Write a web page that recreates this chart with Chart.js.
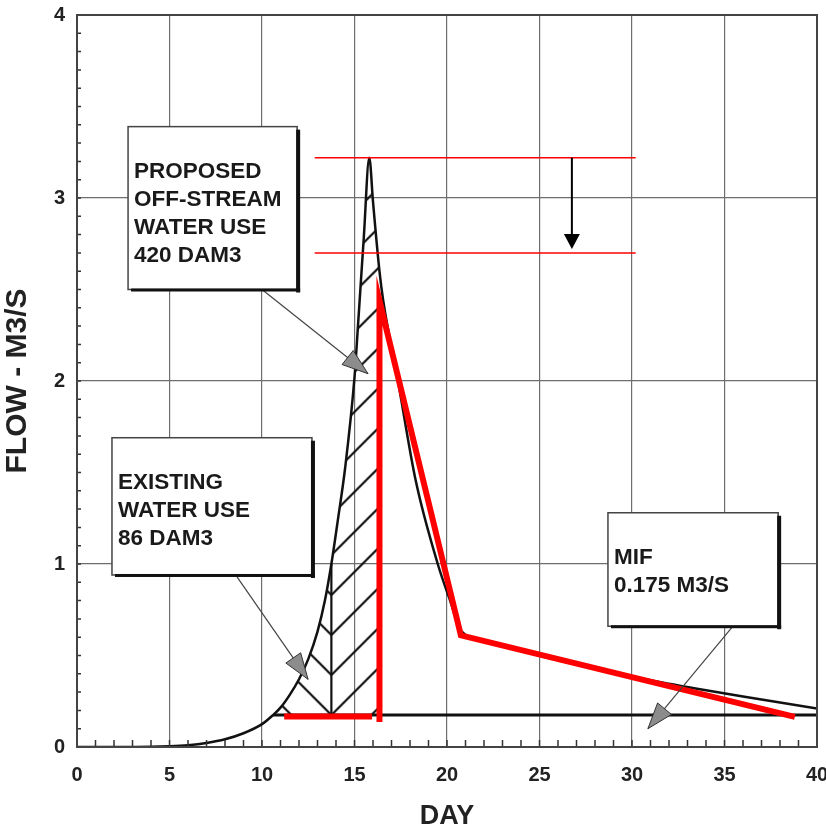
<!DOCTYPE html>
<html>
<head>
<meta charset="utf-8">
<script src="https://cdn.jsdelivr.net/npm/chart.js@4.4.1/dist/chart.umd.min.js"></script>
<style>
  html, body { margin: 0; padding: 0; background: #fff; overflow: hidden; }
</style>
</head>
<body>
<canvas id="flow-chart" width="826" height="833"></canvas>
<script>
// hydrograph (day, m3/s)
const days = [0, 2, 4, 5, 6, 7, 8, 9, 10, 10.6, 11, 11.5, 12, 12.5, 13, 13.4, 13.75, 14.1, 14.5, 15, 15.2, 15.5, 15.8, 16, 16.35, 16.55, 17.35, 18.3, 19.5, 20.1, 20.8, 22, 25, 28, 31, 34, 37, 40];
const flow = [0, 0, 0.001, 0.004, 0.01, 0.022, 0.042, 0.075, 0.125, 0.175, 0.215, 0.285, 0.37, 0.48, 0.63, 0.8, 1.0, 1.24, 1.53, 2.02, 2.32, 2.78, 3.22, 2.98, 2.6, 2.44, 2.0, 1.46, 1.0, 0.82, 0.63, 0.585, 0.5, 0.43, 0.365, 0.31, 0.26, 0.21];

// minimum instream flow
const mifDays = [10.6, 40];
const mifFlow = [0.175, 0.175];

// split of the hatched area: existing use / proposed use
const existingFrom = 10.6;
const splitDay = 13.75;
const cutDay = 16.35;

// red overlay (hand drawn on the original)
const redBaseDays = [11.2, 15.95];
const redBaseFlow = [0.167, 0.167];
const redCutDays = [16.35, 16.35, 20.75, 38.8];
const redCutFlow = [0.137, 2.44, 0.61, 0.165];

// thin red lines showing the peak reduction
const peakLineDays = [12.85, 30.2];
const peakFlow = 3.22;
const reducedFlow = 2.70;
const arrowDay = 26.75;

// axes
const xTicks = [0, 5, 10, 15, 20, 25, 30, 35, 40];
const yTicks = [0, 1, 2, 3, 4];

const FONT = "'Liberation Sans', Arial, sans-serif";

const pts = (xs, ys) => xs.map((x, i) => ({ x: x, y: ys[i] }));
const curve = pts(days, flow);
const between = (a, b) => curve.filter(p => p.x >= a && p.x <= b);

// hatch patterns (lines meet in a chevron at the split day)
function hatch(dir) {
  const s = 40;
  const c = document.createElement("canvas");
  c.width = s; c.height = s;
  const g = c.getContext("2d");
  g.strokeStyle = "#111";
  g.lineWidth = 2.2;
  g.beginPath();
  for (let k = -1; k <= 1; k++) {
    if (dir === "/") {
      g.moveTo(-s + k * s, s * 2); g.lineTo(s * 2 + k * s, -s);
    } else {
      g.moveTo(-s + k * s, -s); g.lineTo(s * 2 + k * s, s * 2);
    }
  }
  g.stroke();
  return g.createPattern(c, "repeat");
}
const hatchLeft = hatch("\\");
const hatchRight = hatch("/");

// callout boxes, in data units: [left day, top flow, right day, bottom flow]
const notes = [
  { lines: ["PROPOSED", "OFF-STREAM", "WATER USE", "420 DAM3"], box: [2.76, 3.39, 11.9, 2.50], from: [10.0, 2.50], to: [15.73, 2.04] },
  { lines: ["EXISTING", "WATER USE", "86 DAM3"], box: [1.89, 1.69, 12.7, 0.94], from: [8.65, 0.93], to: [12.49, 0.37] },
  { lines: ["MIF", "0.175 M3/S"], box: [28.7, 1.28, 37.9, 0.66], from: [35.46, 0.66], to: [30.86, 0.10] },
];

function renderChart() {
  const ctx = document.getElementById("flow-chart");

  const toPx = (chart, d, v) => [chart.scales.x.getPixelForValue(d), chart.scales.y.getPixelForValue(v)];

  const extras = {
    id: "extras",
    beforeDraw: (chart) => {
      const [x0, y0] = toPx(chart, splitDay, mifFlow[0]);
      const m = new DOMMatrix([1, 0, 0, 1, x0, y0]);
      hatchLeft.setTransform(m);
      hatchRight.setTransform(m);
    },
    afterDatasetsDraw: (chart) => {
      const c = chart.ctx;
      const area = chart.chartArea;
      c.save();

      // minor ticks
      c.strokeStyle = "#333";
      c.lineWidth = 1.5;
      c.beginPath();
      for (let d = 1; d < 40; d++) {
        const x = chart.scales.x.getPixelForValue(d);
        c.moveTo(x, area.bottom); c.lineTo(x, area.bottom - 7);
      }
      for (let v = 1; v < 40; v++) {
        const y = chart.scales.y.getPixelForValue(v / 10);
        c.moveTo(area.left, y); c.lineTo(area.left + 4, y);
      }
      c.stroke();

      // frame
      c.strokeStyle = "#444";
      c.lineWidth = 2;
      c.strokeRect(area.left, area.top, area.right - area.left, area.bottom - area.top);

      // arrow between the peak lines
      const [ax, ay1] = toPx(chart, arrowDay, peakFlow);
      const [, ay2] = toPx(chart, arrowDay, reducedFlow);
      c.strokeStyle = "#000";
      c.lineWidth = 2;
      c.beginPath(); c.moveTo(ax, ay1); c.lineTo(ax, ay2 - 14); c.stroke();
      c.fillStyle = "#000";
      c.beginPath();
      c.moveTo(ax - 8, ay2 - 19); c.lineTo(ax + 8, ay2 - 19); c.lineTo(ax, ay2 - 4); c.closePath();
      c.fill();

      // callouts
      notes.forEach(n => {
        const [x1, y1] = toPx(chart, n.box[0], n.box[1]);
        const [x2, y2] = toPx(chart, n.box[2], n.box[3]);
        const [fx, fy] = toPx(chart, n.from[0], n.from[1]);
        const [tx, ty] = toPx(chart, n.to[0], n.to[1]);

        // leader
        c.strokeStyle = "#444";
        c.lineWidth = 1.2;
        c.beginPath(); c.moveTo(fx, fy); c.lineTo(tx, ty); c.stroke();
        const ang = Math.atan2(ty - fy, tx - fx);
        const len = 26, half = 9;
        const bx = tx - Math.cos(ang) * len, by = ty - Math.sin(ang) * len;
        c.fillStyle = "#8c8c8c";
        c.strokeStyle = "#333";
        c.lineWidth = 1;
        c.beginPath();
        c.moveTo(tx, ty);
        c.lineTo(bx + Math.sin(ang) * half, by - Math.cos(ang) * half);
        c.lineTo(bx - Math.sin(ang) * half, by + Math.cos(ang) * half);
        c.closePath();
        c.fill(); c.stroke();

        // box with shadow
        c.fillStyle = "#fff";
        c.fillRect(x1, y1, x2 - x1, y2 - y1);
        c.strokeStyle = "#444";
        c.lineWidth = 1.5;
        c.strokeRect(x1, y1, x2 - x1, y2 - y1);
        c.fillStyle = "#111";
        c.fillRect(x2 - 1, y1 + 3, 4, y2 - y1);
        c.fillRect(x1 + 3, y2 - 1, x2 - x1, 3);

        c.fillStyle = "#1a1a1a";
        c.font = "bold 22.5px " + FONT;
        c.textAlign = "left";
        c.textBaseline = "alphabetic";
        n.lines.forEach((t, i) => c.fillText(t, x1 + 6, y1 + 51 + i * 28));
      });
      c.restore();
    },
  };

  const line = (data, color, width, order) => ({
    data: data,
    borderColor: color,
    borderWidth: width,
    pointRadius: 0,
    fill: false,
    tension: 0,
    order: order,
  });

  new Chart(ctx, {
    type: "line",
    data: {
      datasets: [
        line(pts(redBaseDays, redBaseFlow), "#ff0000", 6, 0),
        line(pts(redCutDays, redCutFlow), "#ff0000", 6, 0),
        line(pts(peakLineDays, [peakFlow, peakFlow]), "#ff0000", 1.5, 1),
        line(pts(peakLineDays, [reducedFlow, reducedFlow]), "#ff0000", 1.5, 1),
        Object.assign(line(curve, "#111", 2.5, 2), { cubicInterpolationMode: "monotone" }),
        line(pts(mifDays, mifFlow), "#111", 3, 3),
        line(pts([splitDay, splitDay], [mifFlow[0], 1.0]), "#111", 2.2, 3),
        {
          data: between(existingFrom, splitDay),
          borderWidth: 0,
          pointRadius: 0,
          cubicInterpolationMode: "monotone",
          backgroundColor: hatchLeft,
          fill: { value: mifFlow[0] },
          order: 5,
        },
        {
          data: between(splitDay, cutDay),
          borderWidth: 0,
          pointRadius: 0,
          cubicInterpolationMode: "monotone",
          backgroundColor: hatchRight,
          fill: { value: mifFlow[0] },
          order: 5,
        },
      ],
    },
    options: {
      responsive: false,
      animation: false,
      layout: { padding: { top: 15, right: 9, left: 0, bottom: 0 } },
      plugins: {
        legend: { display: false },
        tooltip: { enabled: false },
      },
      scales: {
        x: {
          type: "linear",
          min: 0,
          max: 40,
          afterFit: (s) => { s.height = 86; s.paddingLeft = 0; s.paddingRight = 0; },
          afterBuildTicks: (s) => { s.ticks = xTicks.map(v => ({ value: v })); },
          ticks: {
            padding: 16,
            color: "#222",
            maxRotation: 0,
            font: { family: FONT, size: 20, weight: "bold" },
          },
          grid: { color: "#6e6e6e", lineWidth: 1.2, drawTicks: false },
          border: { display: true, color: "#444", width: 2 },
          title: {
            display: true,
            text: "DAY",
            color: "#222",
            padding: { top: 0, bottom: 0 },
            font: { family: FONT, size: 27, weight: "bold" },
          },
        },
        y: {
          type: "linear",
          min: 0,
          max: 4,
          afterFit: (s) => { s.width = 77; s.paddingTop = 0; s.paddingBottom = 0; },
          afterBuildTicks: (s) => { s.ticks = yTicks.map(v => ({ value: v })); },
          ticks: {
            padding: 12,
            color: "#222",
            font: { family: FONT, size: 20, weight: "bold" },
          },
          grid: { color: "#6e6e6e", lineWidth: 1.2, drawTicks: false },
          border: { display: true, color: "#444", width: 2 },
          title: {
            display: true,
            text: "FLOW - M3/S",
            color: "#222",
            padding: { top: 0, bottom: 6 },
            font: { family: FONT, size: 30, weight: "bold" },
          },
        },
      },
    },
    plugins: [extras],
  });
}

renderChart();
</script>
</body>
</html>
